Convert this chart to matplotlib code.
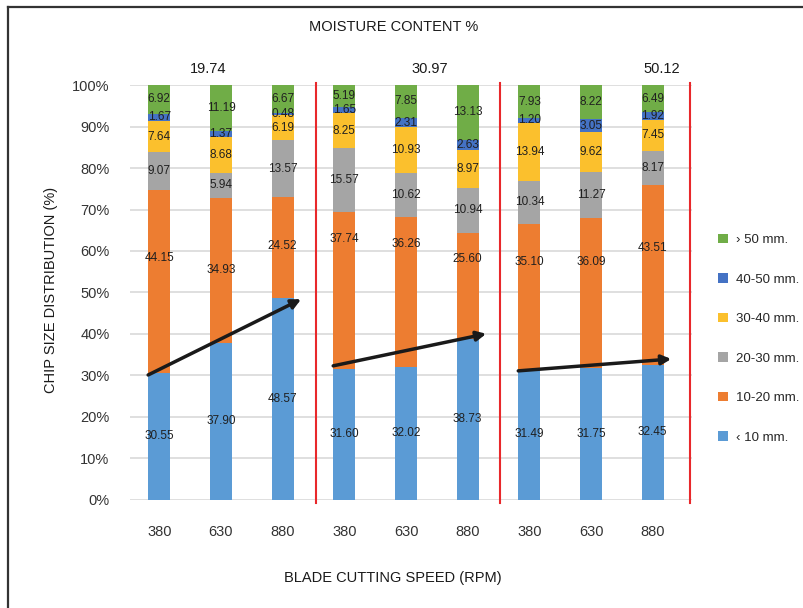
import numpy as np
import matplotlib.pyplot as plt
from matplotlib.lines import Line2D

plt.rcParams['font.family'] = ['Liberation Sans', 'DejaVu Sans']

# speeds repeat for each moisture content group
speeds = ['380', '630', '880'] * 3
moisture = ['19.74', '30.97', '50.12']

sizes = ['‹ 10 mm.', '10-20 mm.', '20-30 mm.', '30-40 mm.', '40-50 mm.', '› 50 mm.']
lt10 = [30.55, 37.90, 48.57, 31.60, 32.02, 38.73, 31.49, 31.75, 32.45]
s10_20 = [44.15, 34.93, 24.52, 37.74, 36.26, 25.60, 35.10, 36.09, 43.51]
s20_30 = [9.07, 5.94, 13.57, 15.57, 10.62, 10.94, 10.34, 11.27, 8.17]
s30_40 = [7.64, 8.68, 6.19, 8.25, 10.93, 8.97, 13.94, 9.62, 7.45]
s40_50 = [1.67, 1.37, 0.48, 1.65, 2.31, 2.63, 1.20, 3.05, 1.92]
gt50 = [6.92, 11.19, 6.67, 5.19, 7.85, 13.13, 7.93, 8.22, 6.49]

series = [lt10, s10_20, s20_30, s30_40, s40_50, gt50]
colors = ['#5B9BD5', '#ED7D31', '#A5A5A5', '#FBC02D', '#4472C4', '#70AD47']

# where the 10-20 label sits inside its segment (moved up in the original)
orange_frac = [0.63, 0.5, 0.52, 0.83, 0.82, 0.76, 0.735, 0.71, 0.65]

fig = plt.figure(figsize=(8.04, 6.08), dpi=100)
ax = fig.add_axes([0.162, 0.178, 0.699, 0.682])

x = np.arange(len(speeds))
bottom = np.zeros(len(speeds))
for k, (vals, col) in enumerate(zip(series, colors)):
    vals = np.array(vals)
    ax.bar(x, vals, 0.36, bottom=bottom, color=col, label=sizes[k], zorder=2)
    for i in range(len(x)):
        frac = orange_frac[i] if k == 1 else 0.5
        ax.text(x[i], bottom[i] + vals[i] * frac, f'{vals[i]:.2f}', ha='center',
                va='center', fontsize=8.5, color='#202020', zorder=4)
    bottom += vals

ax.set_ylim(0, 100)
ax.set_xlim(-0.47, 8.64)
ax.set_yticks(np.arange(0, 101, 10))
ax.set_yticklabels([f'{v}%' for v in range(0, 101, 10)])
ax.set_xticks(x)
ax.set_xticklabels(speeds)
ax.tick_params(axis='both', length=0, labelsize=10.5, colors='#333333')
ax.tick_params(axis='x', pad=18)
ax.tick_params(axis='y', pad=15)
ax.yaxis.grid(True, color='#D9D9D9', lw=1.2, zorder=0)
ax.set_axisbelow(True)
for s in ax.spines.values():
    s.set_visible(False)

# red separators between groups
for xs in [2.54, 5.53, 8.6]:
    ax.plot([xs, xs], [-0.8, 100.5], color='#E8282B', lw=1.5, clip_on=False, zorder=3)

# moisture content labels
for g, (m, xo) in enumerate(zip(moisture, [0.8, 4.39, 8.15])):
    ax.text(xo, 104, m, ha='center', va='center', fontsize=10.5, color='#1a1a1a',
            clip_on=False)

# trend arrows over the < 10 mm. share
ends = [(0, 2, -0.45, -0.2), (3, 5, 0.7, 1.3), (6, 8, -0.4, 1.5)]
for i0, i1, dy0, dy1 in ends:
    ax.annotate('', xy=(x[i1] + 0.3, lt10[i1] + dy1), xytext=(x[i0] - 0.18, lt10[i0] + dy0),
                arrowprops=dict(arrowstyle='-|>', color='#1a1a1a', lw=2.5,
                                mutation_scale=14, shrinkA=0, shrinkB=0), zorder=5)

h, l = ax.get_legend_handles_labels()
fig.legend(h[::-1], l[::-1], loc='upper left', bbox_to_anchor=(0.878, 0.635),
           frameon=False, fontsize=9.5, labelspacing=2.05, handlelength=0.75,
           handleheight=0.75, handletextpad=0.6, labelcolor='#262626')

fig.text(0.489, 0.956, 'MOISTURE CONTENT %', ha='center', va='center', fontsize=10.5,
         color='#1a1a1a')
fig.text(0.489, 0.049, 'BLADE CUTTING SPEED (RPM)', ha='center', va='center',
         fontsize=10.5, color='#1a1a1a')
fig.text(0.063, 0.523, 'CHIP SIZE DISTRIBUTION (%)', ha='center', va='center',
         rotation=90, fontsize=10.5, color='#1a1a1a')

# outer frame (left and top only visible)
fig.add_artist(Line2D([0.0105, 0.0105], [0, 0.988], color='#333333', lw=1.6))
fig.add_artist(Line2D([0.0105, 1], [0.988, 0.988], color='#333333', lw=1.6))

fig.savefig('out.png', dpi=100, facecolor='white')
